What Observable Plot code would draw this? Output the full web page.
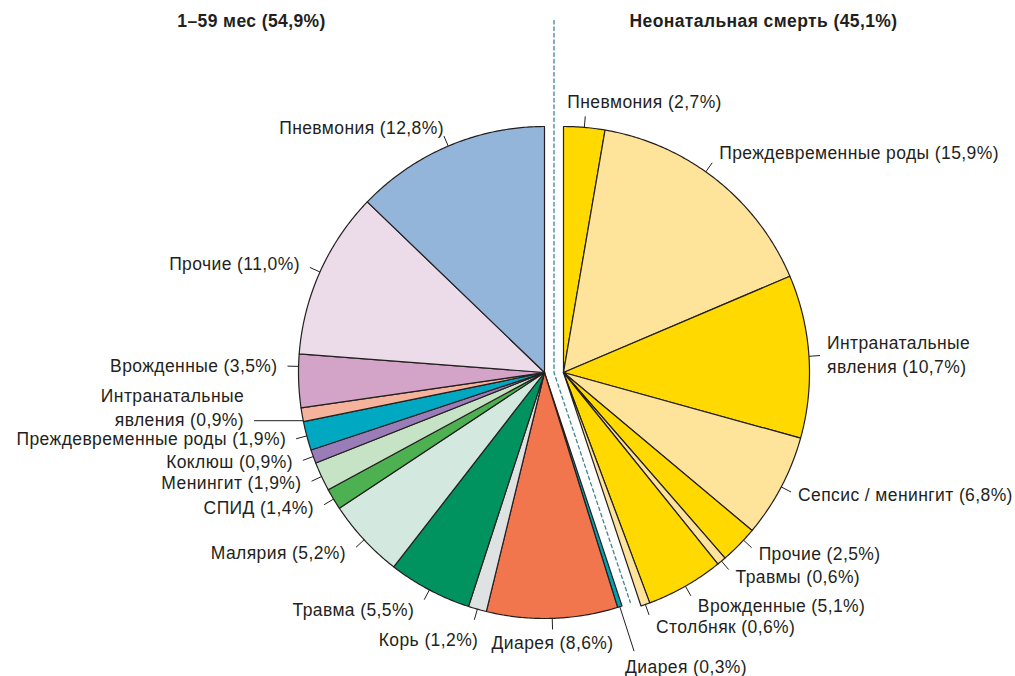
<!DOCTYPE html>
<html><head><meta charset="utf-8">
<script src="https://cdn.jsdelivr.net/npm/d3@7"></script>
<script src="https://cdn.jsdelivr.net/npm/@observablehq/plot@0.6"></script>
<style>body{margin:0;background:#fff;}</style>
</head><body><div id="chart"></div>
<script>
// ---- data ----
const neonatalCauses = ["Пневмония", "Преждевременные роды", "Интранатальные\nявления", "Сепсис / менингит", "Прочие", "Травмы", "Врожденные", "Столбняк"];
const neonatalValues = [2.7, 15.9, 10.7, 6.8, 2.5, 0.6, 5.1, 0.6];
const childCauses = ["Диарея", "Диарея", "Корь", "Травма", "Малярия", "СПИД", "Менингит", "Коклюш", "Преждевременные роды", "Интранатальные\nявления", "Врожденные", "Прочие", "Пневмония"];
const childValues = [0.3, 8.6, 1.2, 5.5, 5.2, 1.4, 1.9, 0.9, 1.9, 0.9, 3.5, 11.0, 12.8];
const groupTitles = ["1–59 мес (54,9%)", "Неонатальная смерть (45,1%)"];

// ---- styles ----
const neonatalColors = ["#ffd900", "#fee39b", "#ffd900", "#fee39b", "#ffd900", "#fee39b", "#ffd900", "#fee39b"];
const childColors = ["#00a3b4", "#f1764e", "#dfe2e3", "#00935f", "#d3e8df", "#4db151", "#c6e3c5", "#9a7cb9", "#00a9c1", "#f6b39c", "#d4a4c8", "#ecdce9", "#93b5da"];
const INK = "#231f20";

// ---- layout ----
const W = 1015, H = 676;
const PX = 246;              // pixels per unit radius
const CX = 544, CY = 372;    // pixel position of the pie centre
const P = 1 / PX;
const shift = 19 * P;        // offset of the exploded neonatal half
const TICK = 0.045;
const FS = 17.5, LH = 24 / 17.5;
// label layout hints: da = angle shift (deg), dx/dy = text nudge (px, y down), extra = longer leader
const hints = {
  "Пневмония (2,7%)": {dx: -18, dy: -6},
  "Преждевременные роды (15,9%)": {da: -3, dy: -3},
  "Прочие (2,5%)": {da: -1.5},
  "Врожденные (3,5%)": {da: 3.4},
  "Интранатальные\nявления (0,9%)": {da: -1.4, extra: 0.155, horiz: true},
  "Корь (1,2%)": {dx: 14, dy: 8},
  "Диарея (0,3%)": {extra: 0.145, below: true}
};
const titlePos = [{x: (251 - CX) * P, y: (CY - 21) * P}, {x: (763 - CX) * P, y: (CY - 21) * P}];

const total = d3.sum(neonatalValues) + d3.sum(childValues);
const slices = [];
let acc = 0;
function addGroup(names, values, colors, group, ox) {
  names.forEach((n, i) => {
    const v = values[i];
    const a0 = acc / total * 2 * Math.PI; acc += v;
    const a1 = acc / total * 2 * Math.PI;
    slices.push({id: group + i, color: colors[i], a0, a1, ox,
      label: n + " (" + v.toFixed(1).replace(".", ",") + "%)"});
  });
}
addGroup(neonatalCauses, neonatalValues, neonatalColors, "n", shift);
addGroup(childCauses, childValues, childColors, "c", 0);

const poly = slices.flatMap(s => {
  const n = Math.max(2, Math.ceil((s.a1 - s.a0) / (Math.PI / 360)));
  const pts = [{id: s.id, color: s.color, x: s.ox, y: 0}];
  for (let k = 0; k <= n; k++) {
    const a = s.a0 + (s.a1 - s.a0) * k / n;
    pts.push({id: s.id, color: s.color, x: s.ox + Math.sin(a), y: Math.cos(a)});
  }
  pts.push({id: s.id, color: s.color, x: s.ox, y: 0});
  return pts;
});

const labels = slices.map(s => {
  const h = hints[s.label] || {};
  const a = (s.a0 + s.a1) / 2 + (h.da || 0) * Math.PI / 180;
  const len = TICK + (h.extra || 0);
  const sx = Math.sin(a), cy = Math.cos(a);
  const x1 = s.ox + sx, y1 = cy;
  let x2 = s.ox + sx * (1 + len), y2 = cy * (1 + len);
  if (h.horiz) { x2 = x1 + Math.sign(sx) * len; y2 = y1; }
  let anchor = sx > 0.05 ? "start" : sx < -0.05 ? "end" : "middle";
  // horizontal gap (px) and vertical offset (px, down positive)
  let gx = anchor === "start" ? 7 : anchor === "end" ? -10 : 0;
  if (cy > 0.85) gx = 0;
  let gy = cy < 0 ? 14 * cy * cy : -8 * cy;
  if (h.horiz) gy = 0;
  if (h.below) { anchor = "start"; gx = -9; gy = 16; }
  gx += h.dx || 0; gy += (h.dy || 0) - 2;
  if (h.horiz) { const lines = s.label.split("\n").length; gy -= (lines - 1) * LH * FS / 2; }
  return {label: s.label, x1, y1, x2, y2, tx: x2 + gx * P, ty: y2 - gy * P, anchor};
});

const gapAngle = d3.sum(neonatalValues) / total * 2 * Math.PI;
const dash = [
  {x: shift / 2, y: (CY - 20) * P},
  {x: shift / 2, y: 0},
  {x: shift / 2 + Math.sin(gapAngle) * 0.985, y: Math.cos(gapAngle) * 0.985}
];

const textOpts = a => ({x: "tx", y: "ty", text: "label", textAnchor: a, lineAnchor: "middle", lineHeight: LH, fontSize: FS, fill: INK});

const chart = Plot.plot({
  width: W, height: H, margin: 0,
  x: {domain: [-CX * P, (W - CX) * P], axis: null},
  y: {domain: [-(H - CY) * P, CY * P], axis: null},
  color: {type: "identity"},
  style: {fontFamily: "'Liberation Sans', Arial, sans-serif", fontSize: "17.5px", letterSpacing: "0.4px", background: "#fff"},
  marks: [
    Plot.line(poly, {x: "x", y: "y", z: "id", fill: "color", stroke: INK, strokeWidth: 1.2, strokeLinejoin: "round"}),
    Plot.line(dash, {x: "x", y: "y", stroke: "#3f8593", strokeWidth: 1.3, strokeDasharray: "3.5,3"}),
    Plot.link(labels, {x1: "x1", y1: "y1", x2: "x2", y2: "y2", stroke: INK, strokeWidth: 1}),
    Plot.text(labels.filter(d => d.anchor === "start"), textOpts("start")),
    Plot.text(labels.filter(d => d.anchor === "end"), textOpts("end")),
    Plot.text(labels.filter(d => d.anchor === "middle"), textOpts("middle")),
    Plot.text(groupTitles, {x: (d, i) => titlePos[i].x, y: (d, i) => titlePos[i].y, text: d => d, fontWeight: "bold", fontSize: 17.5, fill: INK, textAnchor: "middle"})
  ]
});
document.getElementById("chart").append(chart);
</script>
</body></html>
